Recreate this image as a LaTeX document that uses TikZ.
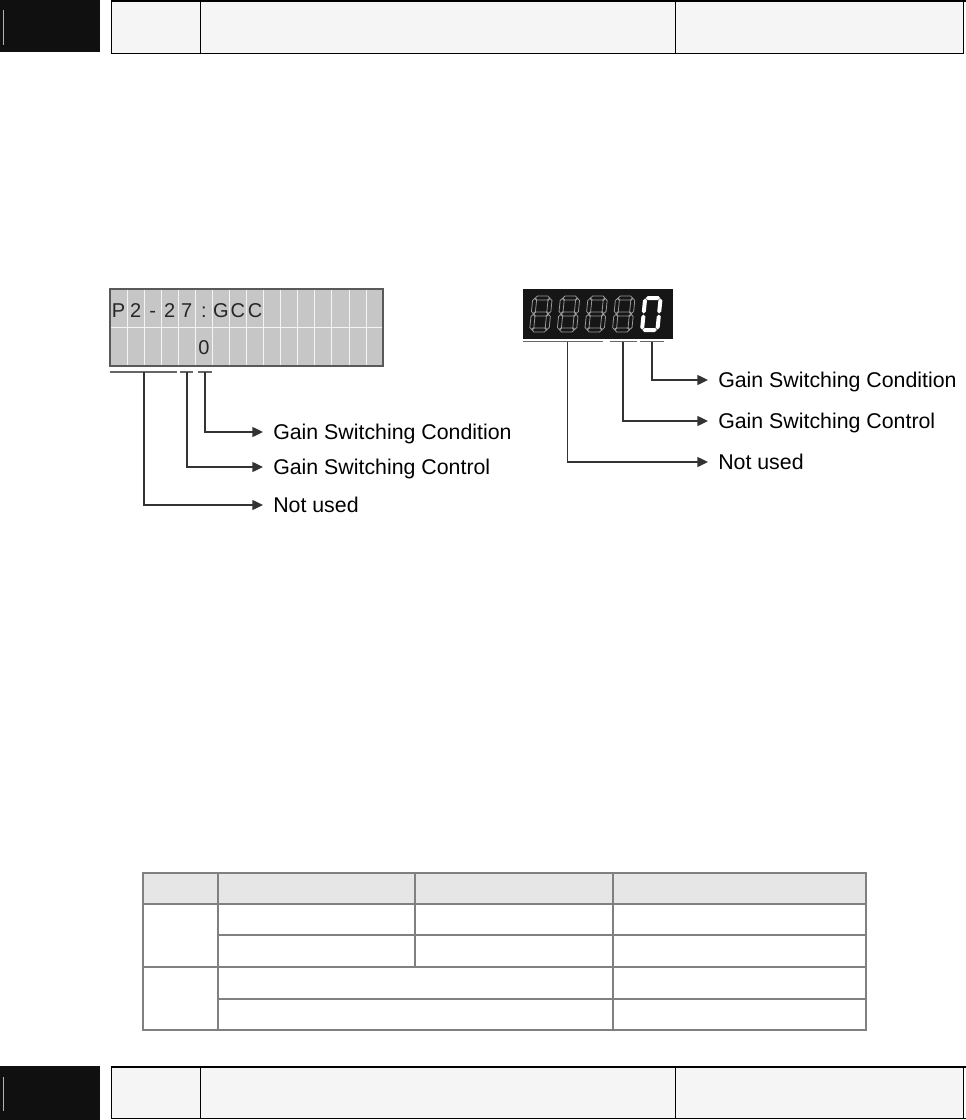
\documentclass[tikz,border=0pt]{standalone}
\usepackage{fontspec}
\setmainfont{Liberation Sans}
\usepackage{xcolor}
\usepackage{tikz}
\usetikzlibrary{positioning, arrows.meta}

\definecolor{lcdgray}{HTML}{C6C6C6}
\definecolor{pagegray}{HTML}{F5F5F5}
\definecolor{hdgray}{HTML}{E6E6E6}
\definecolor{nearblack}{HTML}{111010}
\definecolor{panelblack}{HTML}{161616}

% 7-segment pieces: horizontal from left tip, vertical from top tip
\newcommand{\segH}[2]{(#1,#2) -- ++(2,-2) -- ++(10.4,0) -- ++(2,2) -- ++(-2,2) -- ++(-10.4,0) -- cycle}
\newcommand{\segV}[2]{(#1,#2) -- ++(2,2) -- ++(0,11) -- ++(-2,2) -- ++(-2,-2) -- ++(0,-11) -- cycle}
\newcommand{\digiteight}{\segH{2.5}{2} \segV{2}{2.5} \segV{17.4}{2.5} \segH{2.5}{18} \segV{2}{18.5} \segV{17.4}{18.5} \segH{2.5}{34}}
\newcommand{\digitzero}{\segH{2.5}{2} \segV{2}{2.5} \segV{17.4}{2.5} \segV{2}{18.5} \segV{17.4}{18.5} \segH{2.5}{34}}

\begin{document}
\begin{tikzpicture}[x=0.75pt, y=-0.75pt,
  lbl/.style={anchor=west, inner xsep=7.5pt, inner ysep=0pt, text height=11.5pt, text depth=0pt, font=\fontsize{16}{19}\selectfont},
  lcdchar/.style={inner sep=0pt, text height=10.5pt, text depth=0pt, text=black!85, font=\fontsize{15}{17}\selectfont},
  leader/.style={draw=black!80, line width=1pt, -{Triangle[length=8pt,width=7.5pt]}},
  uline/.style={draw=black!60, line width=0.8pt},
  lcdline/.style={draw=white!80!lcdgray, line width=0.5pt},
  dimseg/.style={draw=gray!80, line width=0.6pt},
  tbl/.style={draw=gray, line width=1pt},
  frame/.style={draw=black, line width=0.7pt}]
  \useasboundingbox (0,0) rectangle (966,1120);

  % header
  \fill[nearblack] (0,0) rectangle (100,52.5);
  \draw[gray!60, line width=0.4pt] (3,10) -- (3,45);
  \fill[pagegray] (111,1) rectangle (963,53);
  \draw[frame] (111,1) -- (111,53) -- (963,53) -- (963,1);
  \draw[frame] (200,1) -- (200,53);
  \draw[frame] (675,1) -- (675,53);
  \draw[black, line width=1.5pt] (111,1) -- (966,1);

  % LCD panel
  \fill[lcdgray] (110,289) rectangle (383,366);
  \foreach \k in {1,...,15}
    \draw[lcdline] (110+17.06*\k,290) -- (110+17.06*\k,365);
  \draw[lcdline] (111,327.5) -- (382,327.5);
  \draw[draw=black!65, line width=1pt] (110,289) rectangle (383,366);
  \foreach \c [count=\k] in {P,2,-,2,7,:,G,C,C}
    \node[lcdchar] (lcdc\k) at (110+17.06*\k-8.53,310) {\c};
  \node[lcdchar] (lcdval) at (110+17.06*5.5,347.5) {0};

  \draw[uline] (110,372) -- (177,372);
  \draw[uline] (180,372) -- (193,372);
  \draw[uline] (198,372) -- (212,372);
  \coordinate (lcdu1) at (144,372);
  \coordinate (lcdu2) at (187,372);
  \coordinate (lcdu3) at (205,372);

  \node[lbl] (lcdcond) at (263,432) {Gain Switching Condition};
  \node[lbl] (lcdctrl) at (263,467) {Gain Switching Control};
  \node[lbl] (lcdnone) at (263,505) {Not used};
  \draw[leader] (lcdu3) |- (lcdcond);
  \draw[leader] (lcdu2) |- (lcdctrl);
  \draw[leader] (lcdu1) |- (lcdnone);

  % 7-segment panel
  \fill[panelblack] (523,289) rectangle (673,338.5);
  \foreach \i in {0,...,3}
    \draw[dimseg, shift={(533+27.6*\i,296)}, xslant=0.1] \digiteight;
  \fill[white, shift={(643.4,296)}, xslant=0.1] \digitzero;

  \draw[uline] (523,341.5) -- (603,341.5);
  \draw[uline] (610,341.5) -- (637,341.5);
  \draw[uline] (640,341.5) -- (664,341.5);
  \coordinate (segu1) at (567.5,341.5);
  \coordinate (segu2) at (623,341.5);
  \coordinate (segu3) at (652,341.5);

  \node[lbl] (segcond) at (708,380) {Gain Switching Condition};
  \node[lbl] (segctrl) at (708,421) {Gain Switching Control};
  \node[lbl] (segnone) at (708,462) {Not used};
  \draw[leader] (segu3) |- (segcond);
  \draw[leader] (segu2) |- (segctrl);
  \draw[leader] (segu1) |- (segnone);

  % table
  \fill[hdgray] (143,873) rectangle (866,904);
  \draw[tbl] (143,873) rectangle (866,1030);
  \draw[tbl] (143,904) -- (866,904);
  \draw[tbl] (218,935) -- (866,935);
  \draw[tbl] (143,967) -- (866,967);
  \draw[tbl] (218,999) -- (866,999);
  \draw[tbl] (218,873) -- (218,1030);
  \draw[tbl] (415,873) -- (415,967);
  \draw[tbl] (613,873) -- (613,1030);

  % footer
  \fill[nearblack] (0,1066) rectangle (100,1120);
  \draw[gray!60, line width=0.4pt] (3,1077) -- (3,1111);
  \fill[pagegray] (111,1066) rectangle (963,1118.5);
  \draw[frame] (111,1066) -- (111,1118.5);
  \draw[frame] (963,1066) -- (963,1118.5);
  \draw[frame] (200,1066) -- (200,1118.5);
  \draw[frame] (675,1066) -- (675,1118.5);
  \draw[black, line width=1.5pt] (111,1066.5) -- (966,1066.5);
  \draw[black, line width=1.1pt] (111,1118.5) -- (966,1118.5);
\end{tikzpicture}
\end{document}
